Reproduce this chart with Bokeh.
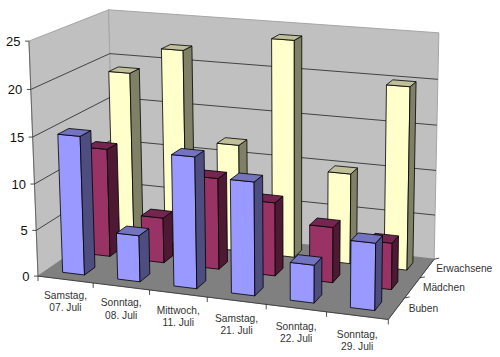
import numpy as np
from bokeh.plotting import figure
from bokeh.models import Range1d
from bokeh.core.properties import value
from bokeh.embed import file_html
from bokeh.resources import INLINE

categories = ["Samstag,\n07. Juli", "Sonntag,\n08. Juli", "Mittwoch,\n11. Juli",
              "Samstag,\n21. Juli", "Sonntag,\n22. Juli", "Sonntag,\n29. Juli"]
series_names = ["Buben", "Mädchen", "Erwachsene"]
buben = [15, 5, 14, 12, 4, 7]
maedchen = [12, 5, 10, 8, 6, 5]
erwachsene = [19, 22, 12, 24, 10, 20]
value_ticks = [0, 5, 10, 15, 20, 25]

VMAX = value_ticks[-1]
NU, NV = len(categories), len(series_names)

corners = [((0, 0, 0), (38, 274)), ((1, 0, 0), (389, 320)), ((0, 1, 0), (113, 225)), ((1, 1, 0), (433, 257)),
           ((0, 0, 1), (28, 38)), ((1, 0, 1), (390, 72)), ((0, 1, 1), (109, 11)), ((1, 1, 1), (439, 30))]
A = []
for (a, b, c), (x, y) in corners:
    A.append([a, b, c, 1, 0, 0, 0, 0, -x*a, -x*b, -x*c, -x])
    A.append([0, 0, 0, 0, a, b, c, 1, -y*a, -y*b, -y*c, -y])
P = np.linalg.svd(np.array(A, float))[2][-1].reshape(3, 4)


def proj(u, v, val):
    h = P @ np.array([u/NU, v/NV, val/VMAX, 1.0])
    return h[0]/h[2], h[1]/h[2]


p = figure(width=500, height=357, output_backend="svg", toolbar_location=None,
           x_range=Range1d(0, 500), y_range=Range1d(357, 0), min_border=0)
p.axis.visible = False
p.grid.visible = False
p.outline_line_color = None


def poly(pts, fill, line="black", w=0.8):
    p.patch([q[0] for q in pts], [q[1] for q in pts], fill_color=fill, line_color=line, line_width=w)


def seg(a, b, color="#222222", w=0.8):
    p.line([a[0], b[0]], [a[1], b[1]], line_color=color, line_width=w)


WALL, FLOOR, EDGE = "#c0c0c0", "#808080", "#a6a6a6"
poly([proj(0, 0, 0), proj(0, NV, 0), proj(0, NV, VMAX), proj(0, 0, VMAX)], WALL, EDGE, 1)
poly([proj(0, NV, 0), proj(NU, NV, 0), proj(NU, NV, VMAX), proj(0, NV, VMAX)], WALL, EDGE, 1)
poly([proj(0, 0, 0), proj(NU, 0, 0), proj(NU, NV, 0), proj(0, NV, 0)], FLOOR, FLOOR, 1)

for t in value_ticks[1:-1]:
    seg(proj(0, 0, t), proj(0, NV, t))
    seg(proj(0, NV, t), proj(NU, NV, t))

seg(proj(0, 0, 0), proj(0, 0, VMAX), "#555555")
for t in value_ticks:
    a = proj(0, 0, t)
    seg((a[0]-4, a[1]), a, "#222222")
    p.text([a[0]-8.5], [a[1]], text=[str(t)], text_align="right", text_baseline="middle",
           text_font=value("Liberation Sans"), text_font_size="13px", text_color="#111111")
seg(proj(0, 0, 0), proj(NU, 0, 0), "#333333")
for i in range(NU+1):
    a = proj(i, 0, 0)
    seg(a, (a[0], a[1]+5), "#222222")
for i in range(1, NV+1):
    a = proj(NU, i, 0)
    seg(a, (a[0]+5, a[1]-1), "#222222")
seg(proj(NU, 0, 0), proj(NU, NV, 0), "#333333")

for i, c in enumerate(categories):
    a = proj(i+.5, 0, 0)
    for k, t in enumerate(c.split("\n")):
        p.text([a[0]], [a[1]+16+0.5*i+12.5*k], text=[t], text_align="center", text_baseline="middle",
               text_font=value("Liberation Sans"), text_font_size="10.2px", text_color="#333333")
for j, s in enumerate(series_names):
    a = proj(NU, j+.5, 0)
    p.text([a[0]+12-1.5*j], [a[1]], text=[s], text_align="left", text_baseline="middle",
           text_font=value("Liberation Sans"), text_font_size="10.2px", text_color="#333333")

styles = [("#9999ff", "#7373bf", "#4d4d80"), ("#993366", "#732650", "#4d1933"), ("#ffffcc", "#bfbf99", "#808066")]
rows = [buben, maedchen, erwachsene]
HW = 0.2
for j in reversed(range(NV)):
    front, top, side = styles[j]
    for i, val in enumerate(rows[j]):
        u0, u1 = i+.5-HW, i+.5+HW
        v0, v1 = j+.5-HW, j+.5+HW
        poly([proj(u0, v0, 0), proj(u1, v0, 0), proj(u1, v0, val), proj(u0, v0, val)], front)
        poly([proj(u1, v0, 0), proj(u1, v1, 0), proj(u1, v1, val), proj(u1, v0, val)], side)
        poly([proj(u0, v0, val), proj(u1, v0, val), proj(u1, v1, val), proj(u0, v1, val)], top)

open("out.html", "w").write(file_html(p, INLINE))
